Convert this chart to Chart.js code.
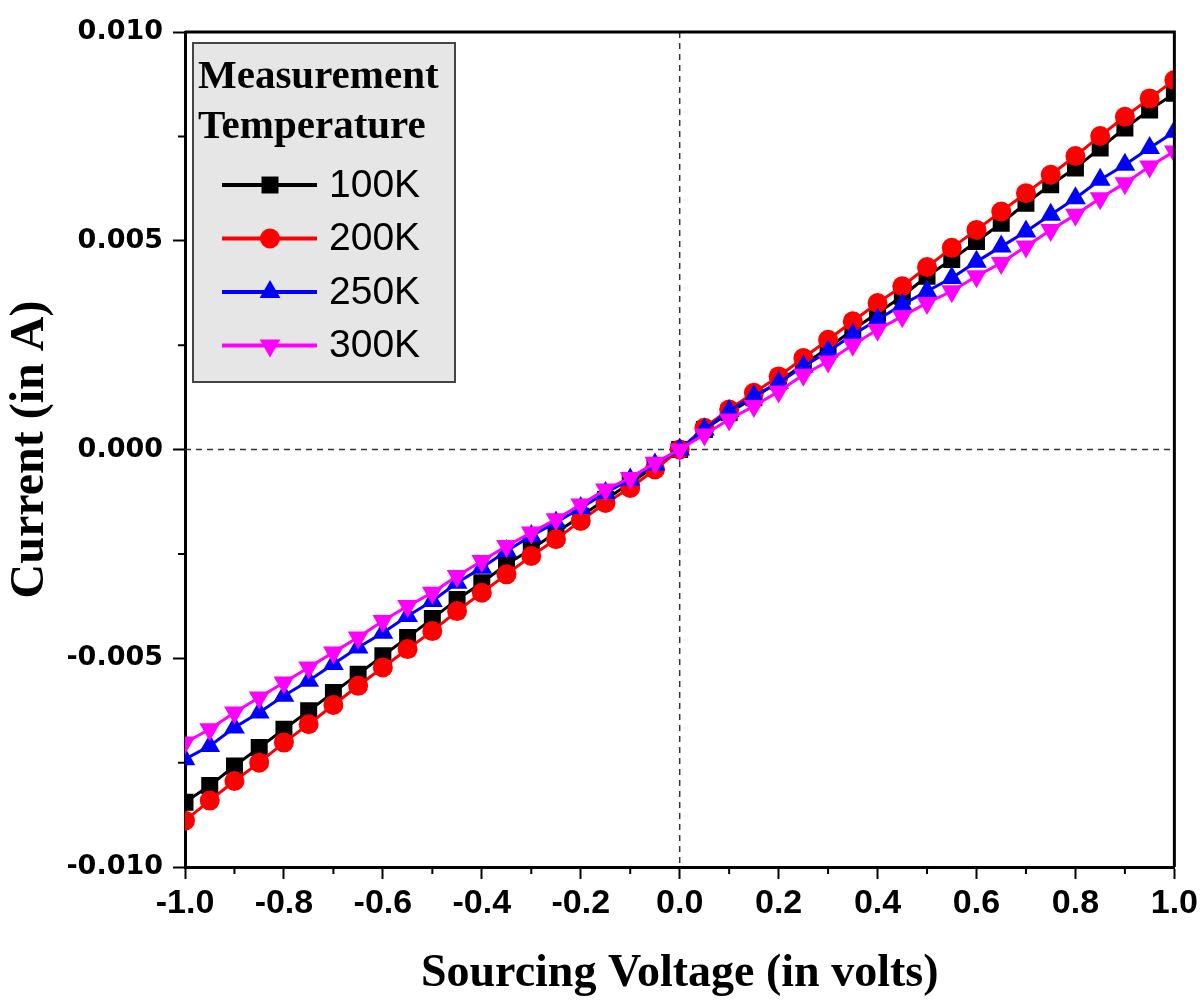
<!DOCTYPE html>
<html>
<head>
<meta charset="utf-8">
<title>I-V curves</title>
<script src="https://cdn.jsdelivr.net/npm/chart.js@4/dist/chart.umd.min.js"></script>
<style>
  html, body { margin: 0; padding: 0; background: #fff; }
  #wrap { width: 1202px; height: 1004px; }
</style>
</head>
<body>
<div id="wrap"><canvas id="iv" width="1202" height="1004"></canvas></div>
<script>
// ── Data (voltage in V, current in A) ──
const voltage = [
  -1.0, -0.95, -0.9, -0.85, -0.8, -0.75, -0.7, -0.65, -0.6, -0.55,
  -0.5, -0.45, -0.4, -0.35, -0.3, -0.25, -0.2, -0.15, -0.1, -0.05,
   0.0,
   0.05, 0.1, 0.15, 0.2, 0.25, 0.3, 0.35, 0.4, 0.45, 0.5,
   0.55, 0.6, 0.65, 0.7, 0.75, 0.8, 0.85, 0.9, 0.95, 1.0
];

const current100K = [
  -0.00845, -0.00805, -0.00758, -0.00714, -0.00670, -0.00626, -0.00582, -0.00538, -0.00494, -0.00450,
  -0.00405, -0.00359, -0.00319, -0.00275, -0.00239, -0.00199, -0.00160, -0.00120, -0.00080, -0.00040,
   0.00000,
   0.00048, 0.00088, 0.00124, 0.00163, 0.00203, 0.00243, 0.00287, 0.00327, 0.00367, 0.00415,
   0.00455, 0.00498, 0.00542, 0.00590, 0.00634, 0.00674, 0.00722, 0.00770, 0.00813, 0.00853
];

const current200K = [
  -0.00889, -0.00841, -0.00794, -0.00750, -0.00702, -0.00658, -0.00612, -0.00566, -0.00522, -0.00478,
  -0.00435, -0.00387, -0.00343, -0.00299, -0.00255, -0.00215, -0.00171, -0.00128, -0.00092, -0.00048,
   0.00000,
   0.00052, 0.00096, 0.00136, 0.00175, 0.00219, 0.00263, 0.00307, 0.00351, 0.00391, 0.00437,
   0.00483, 0.00526, 0.00570, 0.00614, 0.00658, 0.00703, 0.00751, 0.00797, 0.00841, 0.00885
];

const current250K = [
  -0.00742, -0.00710, -0.00666, -0.00630, -0.00590, -0.00554, -0.00514, -0.00474, -0.00439, -0.00399,
  -0.00363, -0.00319, -0.00283, -0.00243, -0.00207, -0.00175, -0.00140, -0.00104, -0.00072, -0.00036,
   0.00000,
   0.00048, 0.00092, 0.00128, 0.00160, 0.00199, 0.00235, 0.00275, 0.00311, 0.00347, 0.00379,
   0.00411, 0.00450, 0.00486, 0.00522, 0.00562, 0.00602, 0.00646, 0.00682, 0.00722, 0.00761
];

const current300K = [
  -0.00702, -0.00670, -0.00630, -0.00594, -0.00558, -0.00522, -0.00486, -0.00450, -0.00411, -0.00375,
  -0.00343, -0.00303, -0.00267, -0.00231, -0.00199, -0.00167, -0.00132, -0.00096, -0.00068, -0.00032,
   0.00000,
   0.00036, 0.00072, 0.00104, 0.00139, 0.00179, 0.00211, 0.00251, 0.00287, 0.00319, 0.00351,
   0.00379, 0.00415, 0.00447, 0.00486, 0.00526, 0.00562, 0.00602, 0.00638, 0.00678, 0.00714
];

const seriesLabels = ['100K', '200K', '250K', '300K'];
const legendTitle = ['Measurement', 'Temperature'];
const xMinorTicks = [-0.9, -0.7, -0.5, -0.3, -0.1, 0.1, 0.3, 0.5, 0.7, 0.9];
const yMinorTicks = [-0.0075, -0.0025, 0.0025, 0.0075];

// ── Styles ──
const SERIES_STYLE = [
  { color: '#000000', pointStyle: 'rect',     radius: 12, rotation: 0 },
  { color: '#ff0000', pointStyle: 'circle',   radius: 10, rotation: 0 },
  { color: '#0000ff', pointStyle: 'triangle', radius: 12, rotation: 0 },
  { color: '#ff00ff', pointStyle: 'triangle', radius: 12, rotation: 180 }
];
const seriesData = [current100K, current200K, current250K, current300K];

const datasets = seriesData.map((vals, i) => ({
  label: seriesLabels[i],
  data: voltage.map((v, j) => ({ x: v, y: vals[j] })),
  borderColor: SERIES_STYLE[i].color,
  backgroundColor: SERIES_STYLE[i].color,
  borderWidth: 3,
  pointStyle: SERIES_STYLE[i].pointStyle,
  pointRadius: SERIES_STYLE[i].radius,
  pointRotation: SERIES_STYLE[i].rotation,
  pointBorderWidth: 0,
  tension: 0,
  clip: 0,
  order: seriesLabels.length - i
}));

// ── Zero lines, frame, minor ticks ──
const framePlugin = {
  id: 'frame',
  beforeDatasetsDraw(chart) {
    const { ctx, chartArea: a, scales: { x, y } } = chart;
    const x0 = x.getPixelForValue(0), y0 = y.getPixelForValue(0);
    ctx.save();
    ctx.strokeStyle = '#333';
    ctx.lineWidth = 1.5;
    ctx.setLineDash([6, 5]);
    ctx.beginPath();
    ctx.moveTo(x0, a.top); ctx.lineTo(x0, a.bottom);
    ctx.moveTo(a.left, y0); ctx.lineTo(a.right, y0);
    ctx.stroke();
    ctx.restore();
  },
  afterDatasetsDraw(chart) {
    const { ctx, chartArea: a, scales: { x, y } } = chart;
    ctx.save();
    ctx.strokeStyle = '#000';
    ctx.lineWidth = 3;
    ctx.beginPath();
    ctx.moveTo(a.left, a.top); ctx.lineTo(a.right, a.top); ctx.lineTo(a.right, a.bottom);
    ctx.stroke();
    ctx.lineWidth = 2;
    ctx.beginPath();
    xMinorTicks.forEach(v => {
      const px = x.getPixelForValue(v);
      ctx.moveTo(px, a.bottom); ctx.lineTo(px, a.bottom + 7);
    });
    yMinorTicks.forEach(v => {
      const py = y.getPixelForValue(v);
      ctx.moveTo(a.left, py); ctx.lineTo(a.left - 7, py);
    });
    ctx.stroke();
    ctx.restore();
  }
};

// ── Legend box drawn inside the plot ──
const legendPlugin = {
  id: 'boxLegend',
  afterDraw(chart) {
    const { ctx, chartArea: a } = chart;
    const bx = a.left + 8, by = a.top + 11, bw = 262, bh = 339;
    ctx.save();
    ctx.fillStyle = '#e6e6e6';
    ctx.fillRect(bx, by, bw, bh);
    ctx.strokeStyle = '#444';
    ctx.lineWidth = 2;
    ctx.strokeRect(bx, by, bw, bh);

    ctx.fillStyle = '#000';
    ctx.textBaseline = 'alphabetic';
    ctx.textAlign = 'left';
    ctx.font = 'bold 41px "Liberation Serif", "Times New Roman", serif';
    ctx.fillText(legendTitle[0], bx + 5, by + 45);
    ctx.fillText(legendTitle[1], bx + 5, by + 95);

    chart.data.datasets.forEach((ds, i) => {
      const cy = by + 142 + i * 53.5;
      ctx.strokeStyle = ds.borderColor;
      ctx.lineWidth = 4;
      ctx.beginPath();
      ctx.moveTo(bx + 29, cy); ctx.lineTo(bx + 124, cy);
      ctx.stroke();
      ctx.fillStyle = ds.backgroundColor;
      Chart.helpers.drawPoint(ctx, {
        pointStyle: ds.pointStyle,
        radius: ds.pointRadius,
        rotation: ds.pointRotation,
        borderWidth: 0
      }, bx + 77, cy);
      ctx.fillStyle = '#000';
      ctx.font = '39px "Liberation Sans", Arial, sans-serif';
      ctx.textBaseline = 'middle';
      ctx.fillText(ds.label, bx + 136, cy + 1);
      ctx.textBaseline = 'alphabetic';
    });
    ctx.restore();
  }
};

new Chart(document.getElementById('iv'), {
  type: 'line',
  data: { datasets },
  plugins: [framePlugin, legendPlugin],
  options: {
    responsive: false,
    animation: false,
    layout: { padding: { left: 0, top: 32, right: 26, bottom: 0 } },
    plugins: { legend: { display: false }, tooltip: { enabled: false } },
    scales: {
      x: {
        type: 'linear',
        min: -1, max: 1,
        afterFit: s => { s.height = 137; },
        border: { display: true, color: '#000', width: 3 },
        grid: { drawOnChartArea: false, drawTicks: true, tickLength: 12, tickColor: '#000', tickWidth: 2 },
        ticks: {
          stepSize: 0.2,
          autoSkip: false,
          maxRotation: 0,
          padding: 4,
          color: '#000',
          font: { family: '"Liberation Sans Narrow", "Liberation Sans", Arial, sans-serif', weight: 'bold', size: 34 },
          callback: v => Number(v).toFixed(1)
        },
        title: {
          display: true,
          text: 'Sourcing Voltage (in volts)',
          color: '#000',
          padding: { top: 0, bottom: 2 },
          font: { family: '"Liberation Serif", "Times New Roman", serif', weight: 'bold', size: 46 }
        }
      },
      y: {
        type: 'linear',
        min: -0.01, max: 0.01,
        afterFit: s => { s.width = 185; },
        border: { display: true, color: '#000', width: 3 },
        grid: { drawOnChartArea: false, drawTicks: true, tickLength: 12, tickColor: '#000', tickWidth: 2 },
        ticks: {
          stepSize: 0.005,
          padding: 10,
          color: '#000',
          font: { family: '"DejaVu Sans", sans-serif', weight: 'bold', size: 27 },
          callback: v => Number(v).toFixed(3)
        },
        title: {
          display: true,
          text: 'Current (in A)',
          color: '#000',
          padding: { top: 2, bottom: 0 },
          font: { family: '"Liberation Serif", "Times New Roman", serif', weight: 'bold', size: 48 }
        }
      }
    }
  }
});
</script>
</body>
</html>
